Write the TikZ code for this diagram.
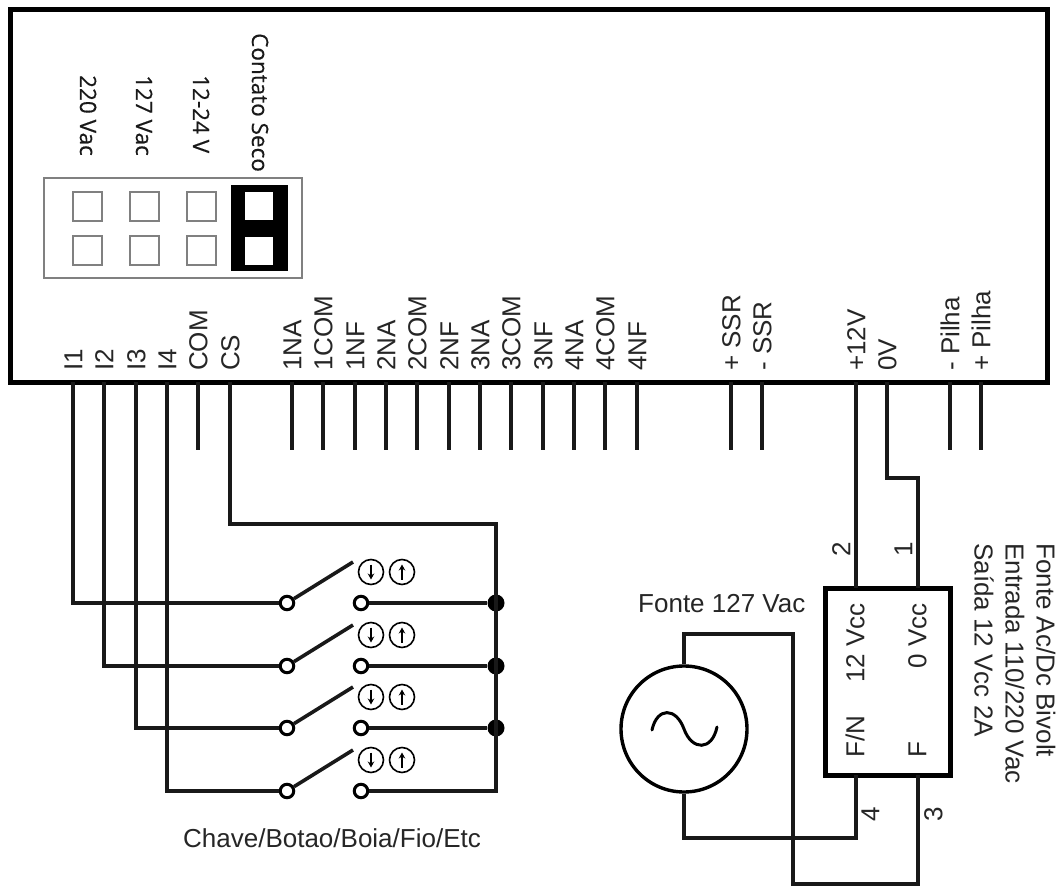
\documentclass[tikz,border=0pt]{standalone}
\usepackage{fontspec}
\setmainfont{Liberation Sans}
\newfontfamily\jumperfont[FakeBold=0.4]{Open Sans}
\usetikzlibrary{arrows.meta}
\tikzset{
  wire/.style={line width=3.6pt,line cap=butt,line join=miter,black!90},
  lbl/.style={font=\fontsize{26}{26}\selectfont,inner sep=0pt,text=black!85,text height=18.6pt,text depth=0pt},
  up lbl/.style={lbl,rotate=90,anchor=west},
  jlbl/.style={font=\jumperfont\fontsize{22.5}{22.5}\selectfont,inner sep=0pt,rotate=-90,text=black!90,text height=16pt,text depth=0pt},
  contact/.style={circle,draw=black,line width=3pt,fill=white,minimum size=13.5pt,inner sep=0pt},
  junction/.style={circle,fill=black,minimum size=17pt,inner sep=0pt},
  dir/.style={circle,draw=black,line width=1.6pt,minimum size=25pt,inner sep=0pt},
  gray box/.style={draw=black!50,line width=1.2pt,fill=white},
  pt/.style={coordinate}
}
\begin{document}
\begin{tikzpicture}[x=1pt,y=-1pt]
\useasboundingbox (0,0) rectangle (1061,888);
\fill[white] (0,0) rectangle (1061,888);
% main board
\node[pt] (tl) at (10,10) {};
\node[pt] (br) at (1047,382) {};
\draw[line width=5pt] (tl) rectangle (br);
% jumper panel
\draw[draw=black!50,line width=1.2pt] (44,178) rectangle (302,278);
\fill[black] (231,185) rectangle (288,271);
\foreach \x in {73,130,187} {
  \draw[gray box] (\x,192) rectangle ++(29,29);
  \draw[gray box] (\x,236) rectangle ++(29,29);
}
\fill[white] (245,192) rectangle (273,220);
\fill[white] (245,237) rectangle (273,265);
\node[jlbl,anchor=west] (j1) at (88,75) {220 Vac};
\node[jlbl,anchor=west] (j2) at (144,75) {127 Vac};
\node[jlbl,anchor=west] (j3) at (201,75) {12-24 V};
\node[jlbl,anchor=west] (j4) at (260,33) {Contato Seco};
% terminal labels and stubs
\foreach \x/\t in {73/I1,104/I2,136/I3,167/I4,198/COM,230/CS,292/1NA,323/1COM,355/1NF,386/2NA,417/2COM,449/2NF,480/3NA,511/3COM,543/3NF,574/4NA,605/4COM,637/4NF,731/+ SSR,762/- SSR,856/+12V,887/0V,950/- Pilha,981/+ Pilha} {
  \node[up lbl] at (\x,371) {\t};
}
\foreach \n/\x in {com/198,na1/292,co1/323,nf1/355,na2/386,co2/417,nf2/449,na3/480,co3/511,nf3/543,na4/574,co4/605,nf4/637,sa/731,sb/762,pa/950,pb/981} {
  \node[pt] (\n a) at (\x,382) {};
  \node[pt] (\n b) at (\x,450) {};
  \draw[wire] (\n a) -- (\n b);
}
% input terminals
\node[pt] (i1) at (73,382) {};
\node[pt] (i2) at (104,382) {};
\node[pt] (i3) at (136,382) {};
\node[pt] (i4) at (167,382) {};
\node[pt] (cs) at (230,382) {};
\node[pt] (v12) at (856,382) {};
\node[pt] (v0) at (887,382) {};
% switches
\foreach \k/\y in {1/603,2/666,3/728,4/791} {
  \node[pt] (tip\k) at (353,\y-41) {};
  \node[contact] (l\k) at (287,\y) {};
  \node[contact] (r\k) at (361,\y) {};
  \draw[wire] (l\k) -- (tip\k);
  \node[dir] (dn\k) at (371,\y-31) {};
  \node[dir] (up\k) at (402,\y-31) {};
  \draw[line width=1.8pt,-{Stealth[length=6pt,width=6.5pt]}] ([yshift=7.5pt]dn\k.center) -- ([yshift=-7.5pt]dn\k.center);
  \draw[line width=1.8pt,-{Stealth[length=6pt,width=6.5pt]}] ([yshift=-7.5pt]up\k.center) -- ([yshift=7.5pt]up\k.center);
}
\node[junction] (b1) at (496,603) {};
\node[junction] (b2) at (496,666) {};
\node[junction] (b3) at (496,728) {};
\node[pt] (b4) at (496,791) {};
\draw[wire] (i1) |- (l1);
\draw[wire] (i2) |- (l2);
\draw[wire] (i3) |- (l3);
\draw[wire] (i4) |- (l4);
\draw[wire] (r1) -- (b1);
\draw[wire] (r2) -- (b2);
\draw[wire] (r3) -- (b3);
\draw[wire] (cs) |- (496,524) -- (b4) -- (r4);
\node[lbl] (chave) at (332,838) {Chave/Botao/Boia/Fio/Etc};
% power supply
\node[draw,line width=5pt,minimum width=125pt,minimum height=187pt,inner sep=0pt] (psu) at (887.5,681.5) {};
\node[pt] (pt2) at (856,588) {};
\node[pt] (pt1) at (918,588) {};
\node[pt] (pb4) at (856,775) {};
\node[pt] (pb3) at (918,775) {};
\draw[wire] (v12) -- (pt2);
\draw[wire] (v0) |- (918,478) -- (pt1);
\node[lbl,rotate=90] (n2) at (841,549) {2};
\node[lbl,rotate=90] (n1) at (903,549) {1};
\node[lbl,rotate=90] (n4) at (870,814) {4};
\node[lbl,rotate=90] (n3) at (933,814) {3};
\node[lbl,rotate=90,anchor=east] (t12) at (855,603) {12 Vcc};
\node[lbl,rotate=90,anchor=east] (t0) at (917,603) {0 Vcc};
\node[lbl,rotate=90,anchor=west] (tfn) at (855,758) {F/N};
\node[lbl,rotate=90,anchor=west] (tf) at (917,758) {F};
\node[lbl,rotate=-90,anchor=west] (d3) at (984,543) {Saída 12 Vcc 2A};
\node[lbl,rotate=-90,anchor=west] (d2) at (1015,543) {Entrada 110/220 Vac};
\node[lbl,rotate=-90,anchor=west] (d1) at (1046,543) {Fonte Ac/Dc Bivolt};
% AC source
\node[circle,draw,line width=3.4pt,minimum size=126pt,inner sep=0pt] (ac) at (684,729) {};
\draw[line width=3pt,line cap=round] (652,730) .. controls (657,707) and (676,707) .. (684,729) .. controls (692,751) and (712,751) .. (717,727);
\node[lbl,anchor=west] (fac) at (638,603) {Fonte 127 Vac};
\draw[wire] (ac.north) |- (793,634) |- (918,884) -- (pb3);
\draw[wire] (ac.south) |- (856,838) -- (pb4);
\end{tikzpicture}
\end{document}
